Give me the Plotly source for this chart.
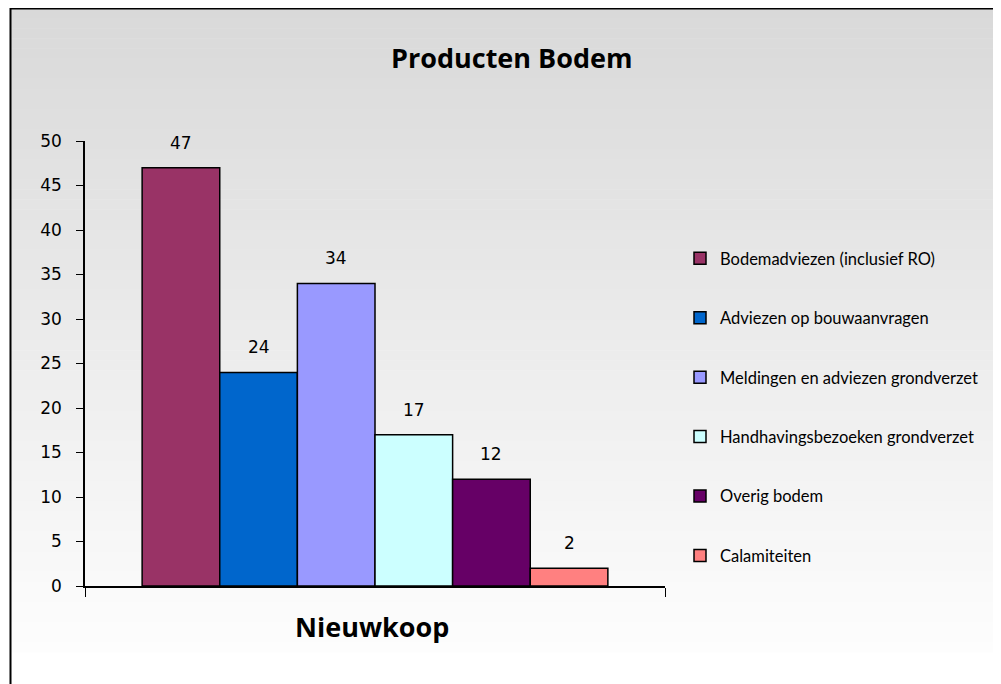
import plotly.graph_objects as go

categories = ["Nieuwkoop"]
series_names = [
    "Bodemadviezen (inclusief RO)",
    "Adviezen op bouwaanvragen",
    "Meldingen en adviezen grondverzet",
    "Handhavingsbezoeken grondverzet",
    "Overig bodem",
    "Calamiteiten",
]
series_values = [47, 24, 34, 17, 12, 2]
series_colors = ["#993366", "#0066CC", "#9999FF", "#CCFFFF", "#660066", "#FF8080"]
y_ticks = [0, 5, 10, 15, 20, 25, 30, 35, 40, 45, 50]

W, H = 1001, 684
OFF = 8  # page body margin
# plot area in reference (screen) pixels
L_s, R_s, T_s, B_s = 85, 665, 141, 586
L, R, T, B = L_s - OFF, R_s - OFF, T_s - OFF, B_s - OFF
NUM_FONT = "DejaVu Sans"
TXT_FONT = "Lato"
BOLD_FONT = "Open Sans"
BARGAP = 0.197


def px2x(sx):  # screen x -> paper
    return (sx - OFF - L) / (R - L)


def px2y(sy):  # screen y -> paper
    return (B - (sy - OFF)) / (B - T)


fig = go.Figure()
for name, val, col in zip(series_names, series_values, series_colors):
    fig.add_trace(go.Bar(
        x=categories, y=[val], name=name, legendgroup=name,
        marker=dict(color=col, line=dict(color="black", width=1.5)),
        hoverinfo="name+y",
    ))

# data labels
n = len(series_values)
bw = (1 - BARGAP) / n
for i, val in enumerate(series_values):
    fig.add_annotation(
        x=-(1 - BARGAP) / 2 + bw * (i + 0.5), y=val, xref="x", yref="y",
        text=str(val), showarrow=False, yanchor="bottom", yshift=13,
        font=dict(family=NUM_FONT, size=17, color="black"),
    )

# gradient background
shapes = []
top_px, bot_px = 8, 652
nb = 64
for k in range(nb):
    y0 = top_px + (bot_px - top_px) * k / nb
    y1 = top_px + (bot_px - top_px) * (k + 1) / nb + 0.6
    c = int(round(217 + (253 - 217) * k / (nb - 1)))
    shapes.append(dict(type="rect", xref="paper", yref="paper",
                       x0=px2x(10), x1=px2x(W + 20), y0=px2y(y1), y1=px2y(y0),
                       fillcolor=f"rgb({c},{c},{c})", line=dict(width=0), layer="below"))
# border lines
shapes.append(dict(type="line", xref="paper", yref="paper",
                   x0=px2x(10.5), x1=px2x(W + 20), y0=px2y(8.5), y1=px2y(8.5),
                   line=dict(color="black", width=2)))
shapes.append(dict(type="line", xref="paper", yref="paper",
                   x0=px2x(10.5), x1=px2x(10.5), y0=px2y(8), y1=px2y(H + 20),
                   line=dict(color="black", width=2)))

fig.add_annotation(x=px2x(511), y=px2y(57), xref="paper", yref="paper",
                   xanchor="center", yanchor="middle",
                   text="<b>Producten Bodem</b>", showarrow=False,
                   font=dict(family=BOLD_FONT, size=27, color="black"))
fig.add_annotation(x=px2x(372), y=px2y(626), xref="paper", yref="paper",
                   xanchor="center", yanchor="middle",
                   text="<b>Nieuwkoop</b>", showarrow=False,
                   font=dict(family=BOLD_FONT, size=27, color="black"))

fig.update_layout(
    width=W, height=H,
    margin=dict(l=L, r=W - R, t=T, b=H - B, pad=0),
    paper_bgcolor="white", plot_bgcolor="rgba(0,0,0,0)",
    barmode="group", bargap=BARGAP, bargroupgap=0,
    shapes=shapes,
    font=dict(family=TXT_FONT, color="black"),
    legend=dict(x=px2x(680), y=px2y(241), xanchor="left", yanchor="top",
                font=dict(family=TXT_FONT, size=16.5, color="black"),
                tracegroupgap=35, bgcolor="rgba(0,0,0,0)", itemclick=False),
    showlegend=True,
)
fig.update_xaxes(type="category", showline=True, linecolor="black", linewidth=1.5,
                 ticks="outside", tickson="boundaries", ticklen=9, tickcolor="black",
                 showticklabels=False, showgrid=False, zeroline=False)
fig.update_yaxes(range=[0, 50], tickvals=y_ticks, showline=True, linecolor="black",
                 linewidth=1.5, ticks="outside", ticklen=7, tickcolor="black",
                 ticklabelstandoff=11,
                 tickfont=dict(family=NUM_FONT, size=17, color="black"),
                 showgrid=False, zeroline=False)

fig.write_html("out.html")
